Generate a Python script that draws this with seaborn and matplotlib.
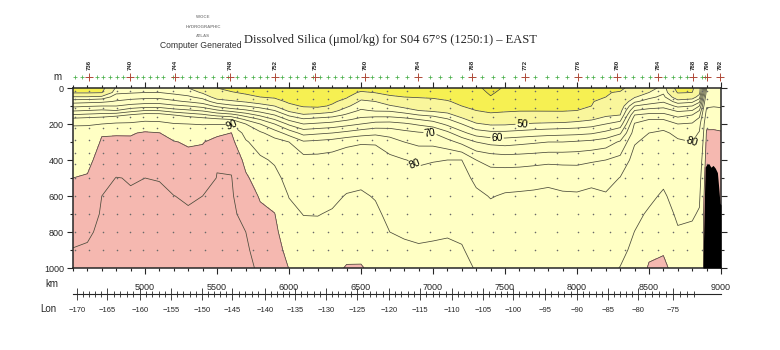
import numpy as np
import pandas as pd
import matplotlib
matplotlib.use("Agg")
import matplotlib.pyplot as plt
import seaborn as sns

sns.set_style("ticks")
plt.rcParams['font.family'] = ['Liberation Sans', 'DejaVu Sans']

# ------ section grid: distance (km) x depth (m) ------ #
depth_m = [0, 25, 50, 75, 100, 125, 150, 175, 200, 250, 300, 400, 500, 600, 700, 800, 900, 1000]

dist_west = [4500, 4600, 4700, 4800, 4900, 5000, 5100, 5200, 5300, 5400, 5500, 5600, 5700, 5800, 5900]
silica_west = [
    [36, 38.9, 50.7, 57.8, 63.8, 69.3, 75.5, 81.9, 89.6, 91.5, 93.2, 96.6, 100, 102.6, 105.2, 107.8, 110.3, 112],
    [36, 38.9, 50.7, 58.3, 64.5, 70, 76.3, 82.6, 89.6, 91.8, 93.6, 97.4, 100.8, 103.5, 106.2, 108.9, 110.8, 112],
    [37, 39.5, 51.9, 58.9, 65, 70.8, 77, 83.4, 90, 99.3, 101, 104, 107, 110, 110.8, 111.5, 112.3, 113],
    [51, 54, 57.2, 60.5, 65, 70, 78.1, 85.4, 91.3, 99.2, 101.8, 105.7, 110.2, 110.6, 111.2, 111.8, 112.4, 113],
    [52, 54.5, 57.9, 61.9, 66.7, 72.9, 80.5, 86.4, 91.5, 99.2, 101.6, 105.3, 109.7, 110.4, 111.1, 111.7, 112.4, 113],
    [53, 55, 58.6, 62.7, 67.7, 75, 82.2, 87.8, 93.5, 101, 102.4, 106.2, 110, 110.8, 111.6, 112.4, 113.2, 114],
    [52.5, 55, 58.6, 62.7, 67.7, 74.7, 82.2, 87.8, 92.5, 100.2, 102.1, 106, 109.8, 110.8, 111.6, 112.4, 113.2, 114],
    [51, 53.9, 57.1, 61, 66.1, 72.1, 80, 85.6, 90.6, 96.1, 100.5, 103.8, 107, 110.1, 111.1, 112, 113, 114],
    [50, 52.8, 55.8, 59.5, 65, 70.8, 77.8, 84, 90, 94.5, 98.9, 102.8, 105.9, 109.1, 110.8, 111.8, 112.9, 114],
    [46, 49.3, 53.3, 57.7, 63, 69.3, 76.1, 82.5, 89.6, 94.5, 99.5, 103.2, 106.6, 110, 111, 112, 113, 114],
    [40, 43.8, 47.7, 52.5, 58.8, 65.8, 73.3, 81.4, 89.6, 97.9, 103, 109.5, 110.2, 111, 111.7, 112.5, 113.2, 114],
    [36, 41, 46, 51, 56.1, 63.1, 71.9, 80, 89.5, 100.1, 102.5, 108.5, 110.3, 111, 111.8, 112.5, 113.3, 114],
    [33, 38, 43.5, 49.3, 55, 60.8, 67.8, 74.3, 80, 86.3, 91.2, 97.1, 101.4, 104.3, 107.1, 110, 111.5, 113],
    [32, 36, 40, 46.9, 52.9, 58, 63.8, 70, 75, 80.9, 85.2, 91.7, 95.4, 99.2, 101.7, 103.8, 105.9, 108],
    [32, 35.3, 38.7, 43.8, 50, 55, 60, 65, 70, 77.5, 82, 88.7, 93, 96.7, 100.2, 101.8, 103.4, 105],
]

dist_mid = [6000, 6100, 6200, 6300, 6400, 6500, 6600, 6700, 6800, 6900, 7000, 7100, 7200, 7300, 7400]
silica_mid = [
    [30, 32.8, 35.6, 38.3, 42.5, 48.8, 54, 59, 64, 72.9, 80, 83.2, 86.5, 89.7, 92.3, 94.9, 97.4, 99.8],
    [30, 32.3, 34.5, 36.8, 39.1, 44.3, 51, 55.8, 60, 68.3, 75.7, 81.9, 84.5, 87.2, 89.8, 92.2, 94.6, 97],
    [31, 32.7, 34.4, 36.1, 37.9, 45.7, 52, 56.7, 60.8, 69.2, 76.3, 81.8, 84.5, 87.1, 89.7, 92.2, 94.6, 97],
    [32, 34.1, 36.2, 38.3, 41.3, 47.9, 53.1, 57.5, 61.7, 70, 77.1, 82.3, 85.2, 88.1, 90.8, 93.2, 95.6, 98],
    [34, 36.5, 39, 43.3, 48.9, 52.5, 55.7, 59.3, 63.3, 71.4, 78.6, 83.3, 87, 90.5, 93, 95.5, 98, 100.5],
    [36, 41.3, 47.5, 51.3, 53.3, 55.6, 58.3, 61.4, 65, 72.9, 79.4, 83.8, 87.9, 91.1, 93.5, 95.8, 98.2, 100.5],
    [38, 39.7, 44.4, 50, 52.3, 54.5, 58.3, 62.5, 66.7, 73.8, 79.4, 83, 86.2, 89.4, 91.7, 93.8, 95.9, 98],
    [36, 38.2, 41, 46, 50.7, 54.3, 58.3, 62.5, 67, 73.2, 77.1, 81.3, 83.5, 85.7, 87.8, 90, 93.5, 97],
    [35, 37.5, 40, 44.2, 48.3, 52.5, 57, 61.7, 65.8, 71.7, 75, 80.2, 82.4, 84.6, 86.7, 88.9, 91.7, 95],
    [34, 36.7, 39.5, 42.9, 46.4, 50, 55, 60, 64.2, 70.6, 73.8, 79.1, 81.8, 84, 86.2, 88.4, 90.9, 94],
    [33, 36, 39, 42.3, 45.6, 48.9, 53.9, 58.3, 62.5, 70, 73.6, 79.7, 82.1, 84.3, 86.6, 88.8, 91.2, 94],
    [32, 34.9, 37.7, 40.7, 44.3, 47.9, 51.7, 55.6, 58.8, 66.3, 71.8, 80, 82.3, 84.6, 86.9, 89.2, 91.6, 94],
    [31, 33.3, 35.5, 37.8, 40, 43.8, 47.7, 51.4, 55, 61.4, 68.6, 80, 82.2, 84.3, 86.5, 88.7, 90.6, 92],
    [32, 33.6, 35.2, 36.8, 38.4, 40, 43.6, 47.1, 50.7, 57.5, 65, 75, 78.6, 81.2, 83.3, 85.4, 87.4, 89.5],
    [27, 28.7, 30.5, 33.2, 35.8, 38.4, 41.5, 45.4, 49.2, 56.3, 63.4, 73.6, 77.1, 79.7, 81.6, 83.4, 85.2, 87],
]

dist_east = [7500, 7600, 7700, 7800, 7900, 8000, 8100, 8200, 8300, 8400, 8500, 8600, 8700, 8800,
             8850, 8875, 8900, 8950, 9000]
silica_east = [
    [31, 32.6, 34.3, 35.9, 37.5, 39.2, 41.8, 45.5, 49.3, 56.3, 62.9, 73, 77.7, 80.5, 81.9, 83.3, 84.6, 86],
    [34, 35.1, 36.3, 37.4, 38.5, 39.6, 42.3, 46.2, 50, 56.9, 63.6, 73.1, 77.9, 80.7, 82, 83.3, 84.7, 86],
    [35, 35.9, 36.9, 37.8, 38.7, 39.6, 42.5, 46.7, 50.7, 57.5, 64.3, 73.4, 78.4, 80.8, 82.1, 83.4, 84.7, 86],
    [36, 36.7, 37.4, 38.2, 38.9, 39.6, 42.2, 46.9, 51.1, 58, 65, 73.8, 78.9, 81, 82.2, 83.5, 84.7, 86],
    [36, 36.7, 37.4, 38.1, 38.9, 39.6, 42, 47, 51.4, 58.4, 65, 73.8, 78.1, 80.7, 82, 83.3, 84.7, 86],
    [37, 37.6, 38.2, 38.8, 39.4, 40, 44.2, 48.3, 52, 58.7, 65.6, 73.8, 77.9, 80.6, 81.9, 83.3, 84.6, 86],
    [38, 38.5, 39, 39.5, 40, 43.2, 46.4, 49.6, 53, 59.4, 66.3, 74.4, 78.8, 81, 82.5, 84, 85.5, 87],
    [39, 39.5, 40, 42.3, 44.5, 46.8, 49.1, 51.9, 55, 61.3, 67.5, 75, 77.9, 80.6, 82.4, 84.3, 86.1, 88],
    [38, 40.7, 42.6, 44.4, 46.3, 48.1, 50, 53.6, 57.1, 64.3, 70.7, 76.5, 80.2, 82.2, 84.2, 86.2, 88.2, 90.2],
    [44, 46.7, 49.5, 54, 60, 65, 70, 73.1, 75.4, 77.5, 79.6, 81.9, 84, 86, 88.1, 90.1, 91.6, 93],
    [46, 50, 53.6, 57.5, 62, 67, 71.4, 75, 76.7, 80, 81.2, 83.6, 86, 88.3, 91, 94.5, 97.9, 101],
    [53, 54.3, 56.3, 59.4, 63.3, 67.5, 71.4, 75, 77.8, 80.9, 82.4, 85.3, 88.2, 91.1, 93.7, 96.4, 99.1, 102],
    [36, 39.3, 45.7, 52.5, 58.8, 64, 68.3, 71.9, 75, 78.8, 80.7, 82.7, 84.7, 86.6, 88.6, 90.8, 93.4, 96],
    [38, 40, 47.1, 53.8, 60, 65, 70, 73.1, 75.5, 77.7, 80, 82.3, 84.5, 86.8, 89.1, 91.4, 93.7, 96],
    [47, 48.1, 52.5, 58.8, 65, 70, 73.6, 76.1, 77.9, 80.5, 81.6, 83.9, 86.3, 88.6, 90.8, 92.9, 94.9, 97],
    [62, 65, 70, 74, 77, 80, 82, 84, 86, 88, 90, 93, 96, 98, 99, 99, 99, 99],
    [80, 82.3, 84.5, 86.8, 89.1, 91.4, 93.6, 95.9, 98.2, 101, 102, 104, 105, 105, 105, 105, 105, 105],
    [82, 83.9, 85.8, 87.7, 89.6, 91.8, 93.9, 96.1, 98.3, 101, 102, 104, 105, 105, 105, 105, 105, 105],
    [82, 83.8, 85.6, 87.5, 89.3, 91.2, 93.2, 95.1, 97.1, 100.8, 101.8, 103.5, 103, 102, 102, 102, 102, 102],
]

# ------ sea floor (black) ------ #
bottom_km = [8860, 8875, 8882, 8890, 8900, 8915, 8930, 8945, 8960, 8975, 8985, 8993, 9000]
bottom_m = [1000, 1000, 700, 440, 425, 420, 440, 430, 445, 470, 560, 640, 650]

# ------ stations ------ #
station_km = [4514, 4563, 4611, 4667, 4708, 4757, 4806, 4847, 4896, 4944, 4986, 5035, 5083,
              5125, 5194, 5257, 5313, 5361, 5417, 5472, 5535, 5576, 5639, 5694, 5750, 5799,
              5847, 5903, 5951, 6007, 6056, 6111, 6167, 6215, 6271, 6319, 6368, 6424, 6472,
              6528, 6576, 6632, 6681, 6750, 6819, 6896, 6979, 7049, 7118, 7201, 7271, 7340,
              7417, 7486, 7569, 7639, 7708, 7792, 7861, 7931, 8007, 8069, 8111, 8174, 8229,
              8278, 8333, 8389, 8451, 8507, 8563, 8611, 8667, 8715, 8764, 8806, 8868, 8889,
              8903, 8993]
label_km = [4611, 4896, 5208, 5590, 5903, 6181, 6528, 6896, 7271, 7639, 8007, 8278, 8563,
            8806, 8903, 8993]
label_txt = ["736", "740", "744", "748", "752", "756", "760", "764", "768", "772", "776",
             "780", "784", "788", "790", "792"]
bottle_m = [15, 60, 110, 160, 220, 290, 360, 420, 500, 600, 700, 800, 900]

# ------ longitude axis ------ #
lon_deg = [-170, -165, -160, -155, -150, -145, -140, -135, -130, -125, -120, -115, -110,
           -105, -100, -95, -90, -85, -80, -75]
lon_km = [4528, 4736, 4965, 5181, 5396, 5604, 5833, 6042, 6257, 6472, 6694, 6910, 7132,
          7347, 7556, 7778, 8000, 8215, 8424, 8667]

fill_levels = [0, 30, 40, 50, 100, 200]
fill_colors = ['#eee43a', '#f6f052', '#f9f69c', '#ffffc4', '#f5b8b0']
plain_levels = [30, 40, 55, 65, 75, 100, 110]
label_levels = [50, 60, 70, 80, 90]
label_spots = [(7620, 205), (7445, 278), (6980, 250), (6875, 417), (5611, 200), (8790, 317)]

dist = dist_west + dist_mid + dist_east
silica = np.array(silica_west + silica_mid + silica_east).T

fig = plt.figure(figsize=(7.8, 3.5), dpi=100, facecolor="w")
ax = fig.add_axes([73 / 780, 82 / 350, 648 / 780, 180 / 350])

ax.contourf(dist, depth_m, silica, levels=fill_levels, colors=fill_colors, zorder=1)
ax.contour(dist, depth_m, silica, levels=plain_levels, colors='#4a4a3a',
           linewidths=0.55, zorder=2)
cs = ax.contour(dist, depth_m, silica, levels=label_levels, colors='#4a4a3a',
                linewidths=0.55, zorder=2)
cs.clabel(fmt='%d', fontsize=7.5, inline=True, inline_spacing=1, manual=label_spots,
          colors='black')

# bottle positions
bottles = pd.DataFrame(
    [(k, d) for k in station_km[::2] for d in bottle_m], columns=["km", "m"]
)
sns.scatterplot(data=bottles, x="km", y="m", ax=ax, s=1.0, color="#6a6a6a",
                edgecolor=None, legend=False, zorder=3)

ax.fill_between(bottom_km, bottom_m, 1000, color="black", zorder=4, linewidth=0)

# station marks above the section
sns.scatterplot(x=station_km, y=[-61] * len(station_km), ax=ax, marker='+', s=12,
                color='#4cb04c', linewidth=0.55, legend=False, clip_on=False, zorder=5)
sns.scatterplot(x=label_km, y=[-61] * len(label_km), ax=ax, marker='+', s=28,
                color='#b04a3a', linewidth=0.7, legend=False, clip_on=False, zorder=6)
for k, t in zip(label_km, label_txt):
    ax.text(k, -128, t, rotation=90, ha='center', va='center', fontsize=4.3,
            weight='bold', clip_on=False)

ax.set_xlim(4500, 9000)
ax.set_ylim(1000, 0)
ax.set_xticks(range(5000, 9001, 500))
ax.set_xticks(range(4500, 9001, 100), minor=True)
ax.set_yticks(range(0, 1001, 200))
ax.set_yticks(range(0, 1001, 100), minor=True)
ax.set_xticklabels([str(v) for v in range(5000, 9001, 500)])
ax.tick_params(which='both', direction='out', top=True, right=True, width=0.8,
               labelsize=6.5, pad=2)
ax.tick_params(which='major', length=4.5)
ax.tick_params(which='minor', length=2.5)
ax.tick_params(axis='x', pad=6)
for s in ax.spines.values():
    s.set_linewidth(1.1)
ax.set_xlabel("")
ax.set_ylabel("")

# longitude axis
axl = fig.add_axes([73 / 780, 56 / 350, 648 / 780, 0.0001])
axl.set_xlim(4500, 9000)
axl.set_yticks([])
for s in ['left', 'right', 'top']:
    axl.spines[s].set_visible(False)
axl.spines['bottom'].set_linewidth(0.8)
axl.set_xticks(lon_km)
axl.set_xticklabels(['\u2212%d' % abs(d) for d in lon_deg])
minor_deg = np.arange(-170, -71)
minor_km = np.interp(minor_deg, lon_deg, lon_km, right=np.nan)
minor_km = np.where(np.isnan(minor_km), lon_km[-1] + (minor_deg + 75) * 48.6, minor_km)
axl.set_xticks(minor_km, minor=True)
axl.tick_params(which='both', direction='inout', width=0.6, labelsize=5.5, pad=5)
axl.tick_params(which='major', length=8)
axl.tick_params(which='minor', length=5)

# texts
fig.text(0.5, 1 - 40 / 350, "Dissolved Silica (\u03bcmol/kg) for S04 67\u00b0S (1250:1) \u2013 EAST",
         ha='center', va='center', fontsize=9, family='Liberation Serif')
fig.text(242 / 780, 1 - 45 / 350, "Computer Generated", ha='right', va='center',
         fontsize=6.2, color='#333333')
for yy, t in [(17, "WOCE"), (27, "HYDROGRAPHIC"), (36, "ATLAS")]:
    fig.text(203 / 780, 1 - yy / 350, t, ha='center', va='center', fontsize=3.2,
             color='#8a8a8a', weight='bold')
fig.text(57 / 780, 1 - 77 / 350, "m", ha='center', va='center', fontsize=7)
fig.text(52 / 780, 1 - 284 / 350, "km", ha='center', va='center', fontsize=7)
fig.text(48 / 780, 1 - 309 / 350, "Lon", ha='center', va='center', fontsize=7)

plt.savefig("out.png", dpi=100)
